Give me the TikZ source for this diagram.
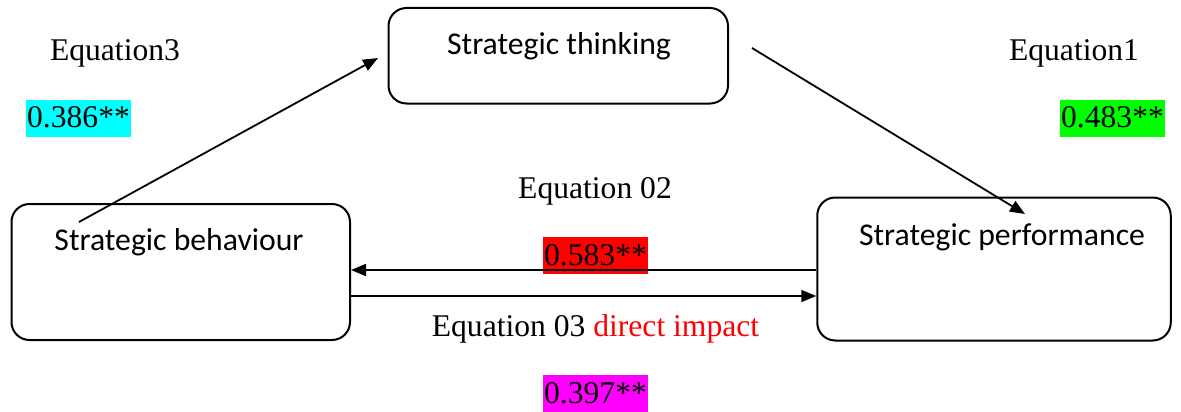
\documentclass[tikz,border=0pt]{standalone}
\usepackage{fontspec}
\setmainfont{Liberation Serif}
\newfontfamily\calfont{Carlito}
\usetikzlibrary{arrows.meta,calc}
\definecolor{hlcyan}{RGB}{0,255,255}
\definecolor{hlgreen}{RGB}{0,255,0}
\definecolor{hlred}{RGB}{255,0,0}
\definecolor{hlmagenta}{RGB}{255,0,255}
\definecolor{txtred}{RGB}{255,0,0}
\begin{document}
\begin{tikzpicture}[x=1pt,y=-1pt,
  box/.style={draw,line width=2pt,rounded corners=18pt,inner sep=0pt},
  boxtext/.style={font=\calfont\fontsize{31.7}{38}\selectfont,anchor=base,inner sep=0pt},
  lbl/.style={font=\fontsize{31.6}{38}\selectfont,anchor=base,inner sep=0pt},
  hl/.style={font=\fontsize{31.6}{38}\selectfont,anchor=base,inner xsep=1pt,inner ysep=0pt,text height=28pt,text depth=9pt},
  conn/.style={line width=1.8pt,-{Triangle[length=15pt,width=12pt]}}]
\useasboundingbox (0,0) rectangle (1181,412);
% boxes
\node[box,minimum width=339.5pt,minimum height=95.5pt] (think) at (558.25,55.75) {};
\node[box,minimum width=338.5pt,minimum height=136pt] (beh) at (180.75,272) {};
\node[box,minimum width=353.5pt,minimum height=143pt] (perf) at (994,269) {};
\node[boxtext] (thinkT) at (559,55) {Strategic thinking};
\node[boxtext] (behT) at (179,250) {Strategic behaviour};
\node[boxtext] (perfT) at (1002,245) {Strategic performance};
% labels
\node[lbl] (eq3) at (115,61) {Equation3};
\node[hl,fill=hlcyan] (v386) at (78.5,128) {0.386**};
\node[lbl] (eq1) at (1074,60) {Equation1};
\node[hl,fill=hlgreen] (v483) at (1112.5,128) {0.483**};
\node[lbl] (eq02) at (595,198) {Equation 02};
\node[hl,fill=hlred] (v583) at (595.5,265) {0.583**};
\node[lbl] (eq03) at (595.5,336) {Equation 03 \textcolor{txtred}{direct impact}};
\node[hl,fill=hlmagenta] (v397) at (595.5,403) {0.397**};
% connectors
\coordinate (a1s) at (79,222);
\coordinate (a1e) at (378,58);
\coordinate (a2s) at (752,48);
\coordinate (a2e) at (1025,214);
\coordinate (yup) at (0,270);
\coordinate (ylo) at (0,296);
\draw[conn] (a1s) -- (a1e);
\draw[conn] (a2s) -- (a2e);
\draw[conn] (perf.west |- yup) -- (beh.east |- yup);
\draw[conn] (beh.east |- ylo) -- (perf.west |- ylo);
\end{tikzpicture}
\end{document}
